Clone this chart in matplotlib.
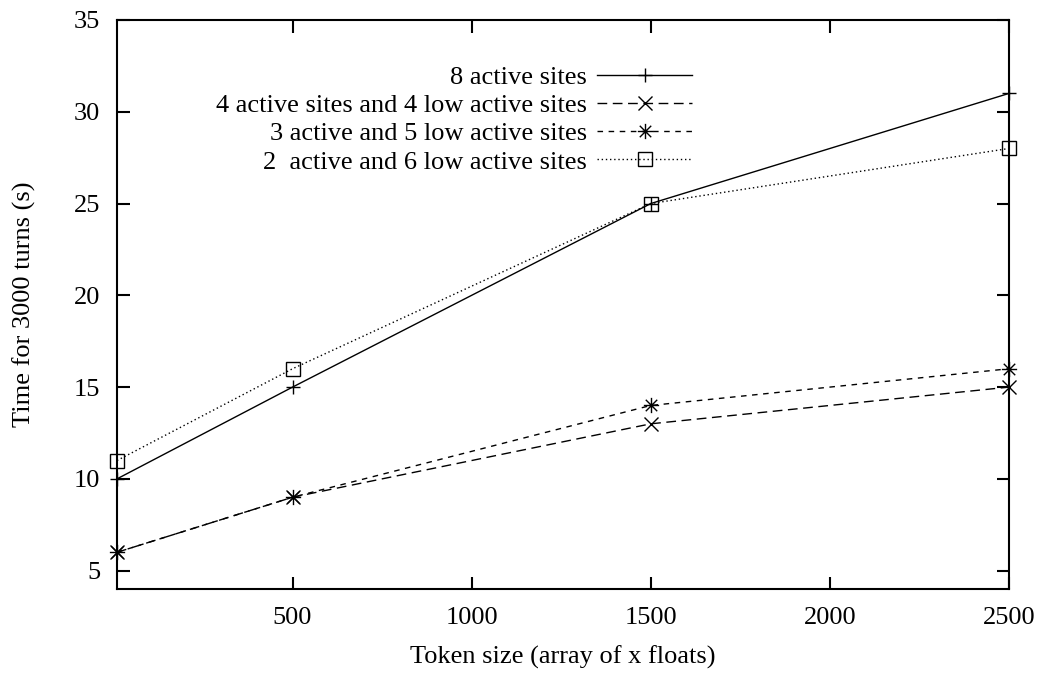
import matplotlib
matplotlib.use('Agg')
import matplotlib.pyplot as plt
from matplotlib.path import Path

plt.rcParams['font.family'] = ['Liberation Serif', 'DejaVu Serif']
plt.rcParams['font.size'] = 19

# Data
token_size = [10, 500, 1500, 2500]
active8 = [10, 15, 25, 31]
active4_low4 = [6, 9, 13, 15]
active3_low5 = [6, 9, 14, 16]
active2_low6 = [11, 16, 25, 28]

labels = ['8 active sites',
          '4 active sites and 4 low active sites',
          '3 active and 5 low active sites',
          '2  active and 6 low active sites']

# gnuplot-style asterisk: plus and cross overlaid
ast = Path([(-1, 0), (1, 0), (0, -1), (0, 1),
            (-0.75, -0.75), (0.75, 0.75), (-0.75, 0.75), (0.75, -0.75)],
           [Path.MOVETO, Path.LINETO] * 4)

fig, ax = plt.subplots(figsize=(10.43, 6.73), dpi=100)
fig.subplots_adjust(left=0.1122, right=0.9674, top=0.9703, bottom=0.1248)

ax.plot(token_size, active8, color='black', lw=1, ls='-',
        marker='+', ms=10, mew=1, label=labels[0], clip_on=False)
ax.plot(token_size, active4_low4, color='black', lw=1, ls=(0, (7, 4)),
        marker='x', ms=10, mew=1, label=labels[1], clip_on=False)
ax.plot(token_size, active3_low5, color='black', lw=1, ls=(0, (4, 4)),
        marker=ast, ms=11, mew=1, mfc='none', label=labels[2], clip_on=False)
ax.plot(token_size, active2_low6, color='black', lw=1, ls=(0, (1, 2)),
        marker='s', ms=10, mew=1, mfc='none', label=labels[3], clip_on=False)

ax.set_xlim(10, 2500)
ax.set_ylim(4, 35)
ax.set_xticks([500, 1000, 1500, 2000, 2500])
ax.set_yticks([5, 10, 15, 20, 25, 30, 35])
ax.tick_params(direction='in', length=9, width=1.5, top=True, right=True,
               labelsize=19)
ax.tick_params(axis='x', pad=13)
ax.tick_params(axis='y', pad=12)
for s in ax.spines.values():
    s.set_linewidth(1.5)

ax.set_xlabel('Token size (array of x floats)', labelpad=12)
ax.set_ylabel('Time for 3000 turns (s)', labelpad=27)

ax.legend(loc='upper right', bbox_to_anchor=(0.645, 0.92), frameon=False,
          markerfirst=False, handlelength=3.6, handletextpad=0.4,
          labelspacing=0.18, borderaxespad=0, borderpad=0)

fig.savefig('out.png', dpi=100)
